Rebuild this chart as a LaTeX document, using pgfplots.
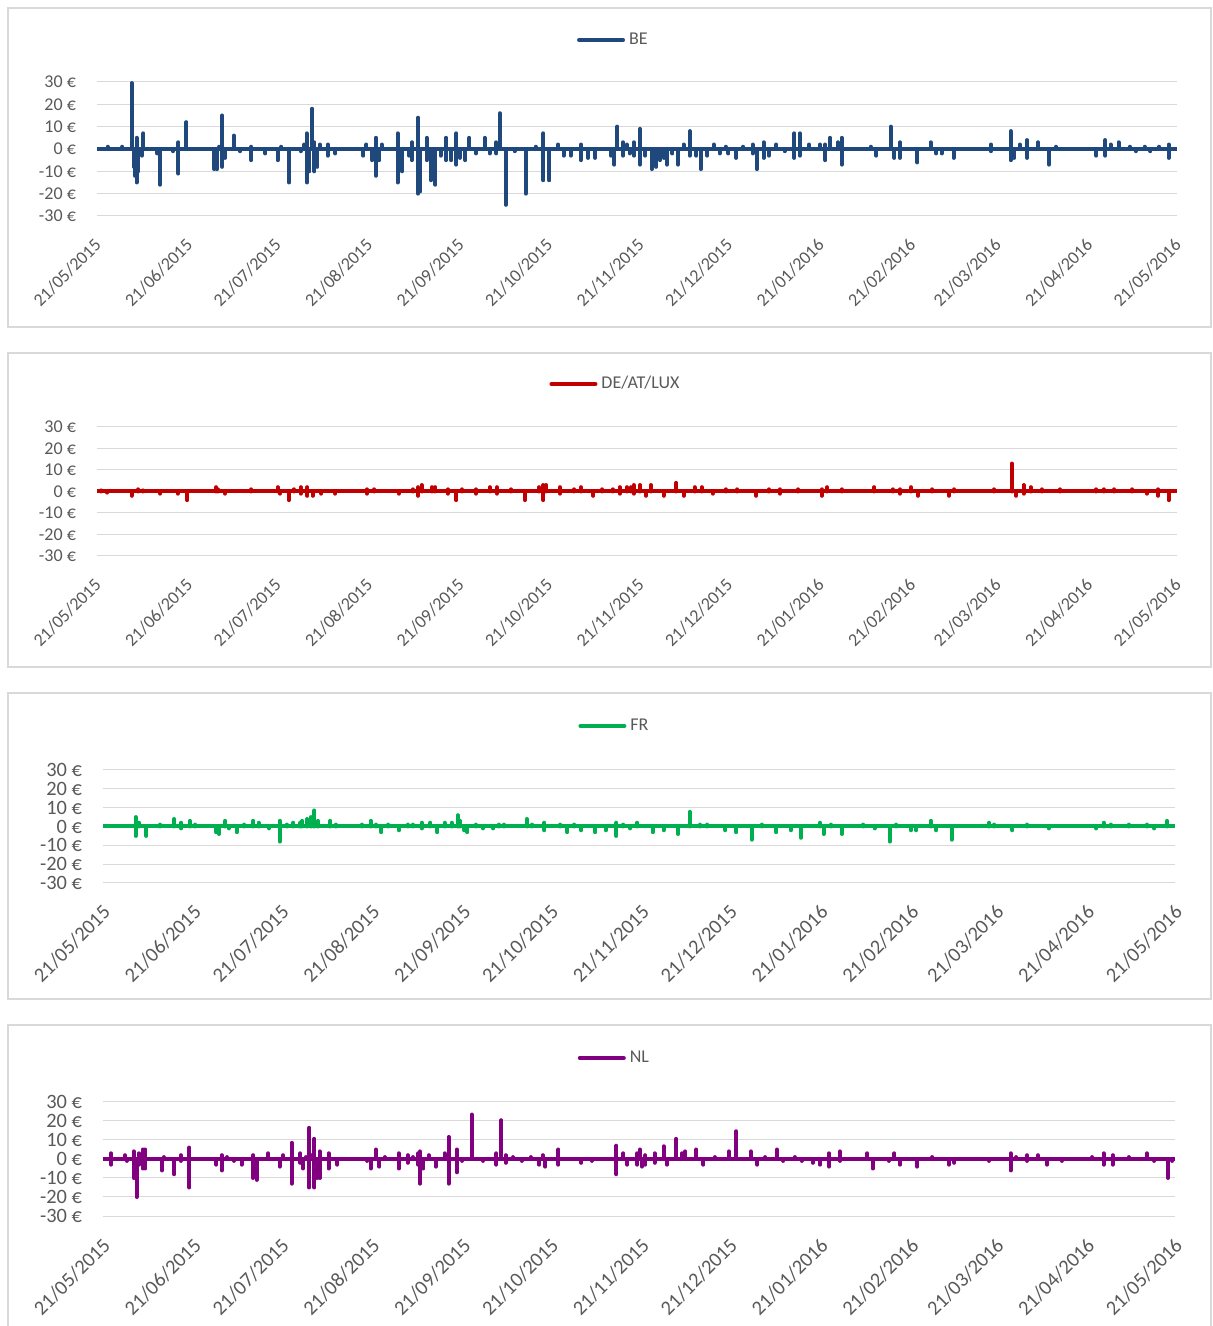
\documentclass[border=0pt]{standalone}
\usepackage{fontspec}
\setmainfont{Carlito}
\usepackage{pgfplots}
\pgfplotsset{compat=1.18}
\usepackage{pgfplotstable}

\definecolor{beblue}{HTML}{1F497D}
\definecolor{dered}{HTML}{C00000}
\definecolor{frgreen}{HTML}{00B050}
\definecolor{nlpurple}{HTML}{800080}
\definecolor{gridgray}{HTML}{D9D9D9}
\definecolor{txtgray}{HTML}{595959}

% day 0 = 21/05/2015, day 366 = 21/05/2016; value in EUR
\pgfplotstableread{
day value
3.6 1
8.6 1
11.7 29.5
12.0 14
12.5 -8
12.8 -12
13.4 -15
13.4 5
14.0 -10
15.2 -3
15.7 7
20.5 -2
21.4 -16
25.7 -1
27.6 -11
27.6 3
30.3 12
39.8 -9
40.7 -9
41.5 1
42.4 15
42.4 -8
43.4 -4
46.4 6
48.5 -1
52.3 -5
52.3 1
57.1 -2
61.2 -5
62.5 1
65.1 -15
69.0 -1
70.3 2
71.1 7
71.1 -15
72.0 -10
72.9 18
73.7 -10
73.7 3
74.7 -8
75.5 2
78.2 -3
78.2 2
80.8 -2
90.3 -3
91.3 2
93.3 -5
94.5 5
94.5 -12
95.7 -5
96.5 2
101.9 7
101.9 -15
103.4 -10
105.8 -3
106.7 3
106.7 -5
108.8 14
108.8 -20
109.6 -19
111.7 5
111.7 -5
113.2 -14
114.7 -16
116.5 -3
118.3 5
118.3 -5
120.1 -5
121.8 7
121.8 -7
123.0 -4
124.8 -5
126.2 5
128.4 -2
131.4 5
133.1 -2
135.3 3
135.3 -2
136.5 16
138.5 -25
141.5 -1
145.3 -20
148.6 1
151.3 7
151.3 -14
153.3 -14
156.3 2
158.1 -3
160.5 -3
164.0 2
164.0 -5
166.4 -4
168.8 -4
174.1 -3
175.3 -7
176.3 10
178.3 3
178.3 -3
179.5 2
180.5 -2
181.9 3
182.0 -3
184.0 9
184.0 -7
185.8 -3
188.0 -9
189.5 -8
190.8 -5
192.0 -4
193.2 -7
195.0 -2
196.9 -7
198.8 2
200.9 8
200.9 -3
203.1 -3
204.6 -9
206.8 -3
209.0 2
211.0 -2
213.0 1
214.0 -2
216.6 -4
219.0 1
222.2 2
222.2 -2
223.6 -9
225.9 3
225.9 -4
227.7 -3
230.2 2
233.0 -1
236.3 7
236.3 -4
238.2 7
238.2 -3
241.3 2
245.0 2
246.8 2
246.8 -5
248.4 5
251.1 3
252.4 5
252.4 -7
262.2 1
264.1 -3
269.0 10
270.2 -4
272.1 3
272.1 -4
278.0 -6
282.5 3
284.4 -2
286.2 -2
290.3 -4
302.9 2
302.9 -1
309.6 8
309.6 -5
310.9 -4
312.7 2
315.2 4
315.2 -4
318.9 3
322.6 -7
325.0 1
338.6 -3
341.7 4
341.7 -3
343.5 2
346.2 3
350.0 1
352.0 -1
355.0 1
357.0 -1
360.0 1
363.2 2
363.2 -4
}\databe

\pgfplotstableread{
day value
1.5 0.5
3.5 -0.5
11.7 -2
14.0 1
15.5 0.5
21.4 -1
27.3 -1
30.6 -4
40.4 2
41.0 1
43.4 -1
52.3 1
61.2 2
62.0 -1
65.0 -4
66.6 1
69.0 2
69.0 -1
71.3 2
71.3 -2
73.1 -2
76.0 -1
80.8 -1
91.5 1
91.5 -1
94.0 1
102.2 -1
107.0 1
108.8 2
108.8 -2
110.0 3
113.5 2
114.7 2
118.9 1
118.9 -1
121.8 -4
123.6 1
128.4 1
128.4 -1
133.1 2
135.5 2
135.5 -1
140.3 1
145.0 -4
149.8 2
151.3 3
151.3 -4
152.2 3
156.9 2
156.9 -1
161.7 1
164.0 2
168.2 -2
171.2 1
174.7 1
177.1 2
177.1 -1
179.5 2
180.9 2
181.9 3
181.9 -1
184.0 3
186.0 -2
187.7 3
192.0 -2
196.3 4
198.8 -2
202.5 2
204.9 2
208.6 -1
213.0 1
217.0 1
223.4 -2
227.7 1
231.4 1
231.4 -1
237.6 1
245.6 1
245.6 -2
247.4 2
252.3 1
263.4 2
269.6 1
272.1 1
272.1 -1
275.8 2
278.2 -2
283.1 1
288.7 -2
290.5 1
304.0 1
310.0 13
311.5 -2
314.0 3
314.0 -1
316.4 2
320.1 1
326.3 1
338.6 1
341.1 1
344.8 1
350.9 1
355.8 -1
359.6 1
359.6 -2
363.2 -4
}\datade

\pgfplotstableread{
day value
11.1 5
11.1 -5
12.3 2
14.7 -5
19.5 1
24.3 4
26.7 2
26.7 -1
29.7 3
31.5 1
38.7 -3
39.6 -4
41.7 3
42.9 -1
45.6 -3
48.3 1
51.3 3
53.1 2
56.7 -1
60.3 3
60.3 -8
62.7 1
65.0 2
67.4 2
68.0 3
69.8 4
71.0 5
72.2 8.5
73.4 3
77.6 3
79.4 1
88.4 1
91.4 3
93.2 1
95.0 -3
97.4 1
101.0 -2
104.0 1
105.8 1
108.8 2
108.8 -1
111.8 2
114.2 -3
116.6 2
119.0 2
121.1 6
121.9 3
123.4 -2
124.4 -3
127.3 1
129.7 -1
133.3 -1
135.1 1
136.9 1
144.7 4
146.5 1
150.7 2
150.7 -2
156.1 1
158.5 -3
160.9 1
163.3 -2
168.1 -3
171.7 -2
175.3 2
175.3 -5
177.7 1
180.0 -1
182.4 2
187.7 -3
191.4 -2
196.4 -4
200.3 7.8
203.8 1
206.3 1
212.5 -2
216.2 -3
221.5 -7
224.9 1
229.9 -3
234.8 -2
238.3 -6
244.8 2
246.0 -4
248.5 1
252.2 -4
259.6 1
263.4 -1
268.6 -8
270.8 1
275.8 -2
277.6 -2
282.6 3
284.5 -2
289.7 -7
302.5 2
304.3 1
310.5 -2
315.5 1
322.9 -1
339.1 -1
341.6 2
344.0 1
350.2 1
356.4 1
358.9 -1
363.3 3
}\datafr

\pgfplotstableread{
day value
2.7 3
2.7 -3
7.5 2
8.1 -1
10.5 4
10.5 -10
11.5 -20
12.3 3
12.3 -3
13.5 5
13.5 -5
14.5 5
14.5 -5
20.1 -6
20.7 1
24.3 -8
26.5 2
26.5 -1
29.5 6
29.5 -15
38.7 -3
40.5 2
40.5 -6
42.3 1
44.7 -1
47.3 -3
51.3 2
51.3 -10
52.5 -11
56.4 3
60.3 -4
61.5 2
64.4 8.5
64.4 -13
67.4 3
67.4 -2
68.3 -5
69.2 1
70.4 16.4
70.4 -15
71.3 2
72.2 10.6
72.2 -15
73.2 -10
74.0 4
74.0 -10
77.0 3
77.0 -5
80.0 -3
90.2 -1
91.4 -5
93.2 5
94.4 -4
96.2 1
101.0 3
101.0 -5
104.0 2
104.0 -2
105.8 1
107.6 3
107.6 -3
108.2 4
108.2 -13
109.4 -5
111.2 2
113.6 -4
116.6 3
118.0 11.6
118.0 -13
120.8 5
120.8 -7
122.6 -1
125.9 23.4
129.7 -1
134.3 3
134.3 -3
136.0 20.4
137.5 2
137.5 -2
140.0 1
143.0 -1
146.0 1
148.9 -3
150.1 2
151.0 -4
155.5 5
155.5 -3
163.3 -2
166.9 -1
175.3 7
175.3 -8
177.7 3
178.9 -2
179.0 -3
182.4 3
182.4 -3
183.3 5
184.0 -4
185.2 2
185.2 -3
188.3 3
188.3 -2
191.4 6.7
192.6 -3
195.7 10.6
197.6 3
198.8 4
202.6 5
205.0 -3
208.8 1
213.7 4
216.2 14.6
221.2 4
223.4 -3
226.1 1
230.1 5
232.3 -1
236.1 1
238.5 -1
242.3 -2
244.8 -3
247.9 3
247.9 -4
251.6 4
251.6 -1
260.9 3
262.8 -5
268.3 -1
270.2 3
272.1 -3
278.0 -4
283.2 1
288.8 -3
290.7 -2
302.5 -1
309.9 3
309.9 -6
311.8 1
315.5 2
315.5 -1
319.2 2
322.3 -3
327.3 -1
337.8 1
341.6 3
341.6 -3
344.7 2
344.7 -3
350.2 1
356.4 3
358.9 -1
363.6 -10
365.1 -1
}\datanl

\pgfplotsset{
  panel/.style={
    scale only axis,
    anchor=south west,
    xmin=0, xmax=366,
    ymin=-30, ymax=30,
    ytick={-30,-20,-10,0,10,20,30},
    yticklabels={-30~€,-20~€,-10~€,0~€,10~€,20~€,30~€},
    xtick={0,31,61,92,123,153,184,214,245,276,305,336,366},
    xticklabels={21/05/2015,21/06/2015,21/07/2015,21/08/2015,21/09/2015,21/10/2015,21/11/2015,21/12/2015,21/01/2016,21/02/2016,21/03/2016,21/04/2016,21/05/2016},
    ymajorgrids,
    major grid style={gridgray, line width=0.5pt},
    axis line style={draw=none},
    major tick length=0pt,
    tick label style={font=\fontsize{9}{10}\selectfont, text=txtgray},
    xticklabel style={xshift=3pt, yshift=-10.5pt, rotate=45, anchor=east},
    yticklabel style={xshift=-7pt},
    clip=false,
    legend style={draw=none, fill=none, anchor=center, inner sep=0pt,
      font=\fontsize{9}{10}\selectfont, text=txtgray},
    legend image code/.code={\draw[##1, line width=2pt, line cap=round] (0pt,0pt) -- (22pt,0pt);},
  },
  bigger/.style={
    tick label style={font=\fontsize{10.2}{11}\selectfont},
    xticklabel style={xshift=1pt, yshift=-1pt},
  },
  spikes/.style={ycomb, line width=2pt, line cap=round, forget plot},
}

\begin{document}
\begin{tikzpicture}
\useasboundingbox (0,0) rectangle (606pt,663pt);
\draw[gridgray, line width=0.75pt] (4pt,499.5pt) rectangle (605.5pt,659pt);
\draw[gridgray, line width=0.75pt] (4pt,329.5pt) rectangle (605.5pt,486.5pt);
\draw[gridgray, line width=0.75pt] (4pt,163.5pt) rectangle (605.5pt,316.5pt);
\draw[gridgray, line width=0.75pt] (4pt,-2pt) rectangle (605.5pt,150.5pt);

\begin{axis}[panel, at={(48.5pt,555pt)}, width=540pt, height=67pt,
  legend style={at={(axis description cs:0.479,1.313)}}]
\addplot[beblue, line width=2pt] coordinates {(0,0) (366,0)};
\addlegendentry{BE}
\addplot[beblue, spikes] table {\databe};
\end{axis}

\begin{axis}[panel, at={(48.5pt,385pt)}, width=540pt, height=64.5pt,
  legend style={at={(axis description cs:0.481,1.333)}}]
\addplot[dered, line width=2pt] coordinates {(0,0) (366,0)};
\addlegendentry{DE/AT/LUX}
\addplot[dered, spikes] table {\datade};
\end{axis}

\begin{axis}[panel, bigger, at={(51.5pt,221.5pt)}, width=536pt, height=56.5pt,
  legend style={at={(axis description cs:0.478,1.389)}}]
\addplot[frgreen, line width=2pt] coordinates {(0,0) (366,0)};
\addlegendentry{FR}
\addplot[frgreen, spikes] table {\datafr};
\end{axis}

\begin{axis}[panel, bigger, at={(51.5pt,55pt)}, width=536pt, height=57pt,
  legend style={at={(axis description cs:0.478,1.386)}}]
\addplot[nlpurple, line width=2pt] coordinates {(0,0) (366,0)};
\addlegendentry{NL}
\addplot[nlpurple, spikes] table {\datanl};
\end{axis}
\end{tikzpicture}
\end{document}
